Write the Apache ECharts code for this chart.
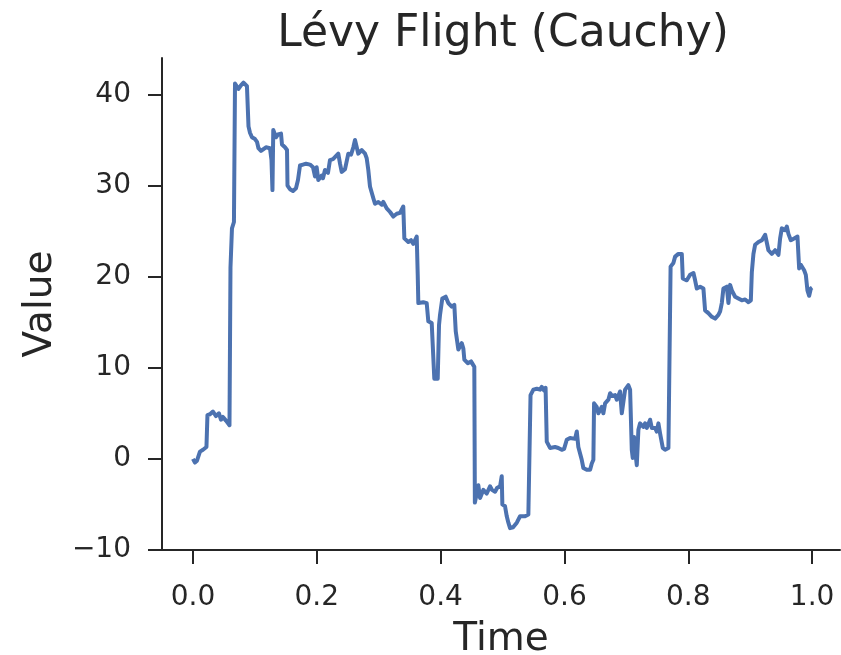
<!DOCTYPE html>
<html>
<head>
<meta charset="utf-8">
<script src="https://cdn.jsdelivr.net/npm/echarts@6/dist/echarts.min.js"></script>
<style>html,body{margin:0;padding:0;background:#fff}#c{width:841px;height:655px}</style>
</head>
<body>
<div id="c"></div>
<script>
const chartTitle = 'Lévy Flight (Cauchy)';
const xName = 'Time';
const yName = 'Value';
const xTicks = [0, 0.2, 0.4, 0.6, 0.8, 1.0];
const yTicks = [-10, 0, 10, 20, 30, 40];
const time = [
0,0.0032,0.0065,0.0113,0.0162,0.0218,0.0234,0.0275,0.0323,0.0372,0.0420,0.0452,0.0485,0.0533,0.0565,0.0590,
0.0606,0.0630,0.0662,0.0679,0.0711,0.0735,0.0775,0.0816,0.0872,0.0897,0.0921,0.0953,0.1002,0.1034,0.1058,0.1099,
0.1131,0.1179,0.1244,0.1268,0.1284,0.1297,0.1341,0.1373,0.1422,0.1438,0.1486,0.1519,0.1527,0.1567,0.1616,0.1664,
0.1696,0.1729,0.1777,0.1826,0.1890,0.1939,0.1971,0.1998,0.2024,0.2079,0.2100,0.2132,0.2181,0.2213,0.2262,0.2294,
0.2347,0.2375,0.2402,0.2456,0.2483,0.2509,0.2553,0.2590,0.2617,0.2645,0.2670,0.2725,0.2779,0.2806,0.2832,0.2859,
0.2913,0.2940,0.2994,0.3049,0.3074,0.3129,0.3183,0.3236,0.3291,0.3344,0.3397,0.3414,0.3478,0.3522,0.3559,0.3614,
0.3630,0.3640,0.3721,0.3775,0.3801,0.3856,0.3877,0.3898,0.3953,0.3974,0.3990,0.4027,0.4082,0.4124,0.4179,0.4221,
0.4244,0.4286,0.4341,0.4367,0.4383,0.4438,0.4491,0.4544,0.4553,0.4609,0.4637,0.4690,0.4745,0.4798,0.4830,0.4879,
0.4911,0.4960,0.4987,0.4997,0.5040,0.5068,0.5094,0.5121,0.5170,0.5230,0.5283,0.5315,0.5363,0.5417,0.5444,0.5452,
0.5498,0.5553,0.5606,0.5633,0.5670,0.5695,0.5714,0.5767,0.5848,0.5901,0.5956,0.5994,0.6037,0.6090,0.6171,0.6199,
0.6224,0.6279,0.6305,0.6360,0.6414,0.6441,0.6467,0.6478,0.6521,0.6547,0.6602,0.6628,0.6656,0.6709,0.6737,0.6769,
0.6817,0.6845,0.6898,0.6926,0.6951,0.6979,0.7032,0.7060,0.7087,0.7103,0.7124,0.7141,0.7168,0.7194,0.7221,0.7274,
0.7302,0.7329,0.7383,0.7410,0.7464,0.7491,0.7517,0.7544,0.7588,0.7625,0.7679,0.7706,0.7714,0.7759,0.7787,0.7840,
0.7895,0.7911,0.7976,0.8029,0.8083,0.8110,0.8137,0.8191,0.8244,0.8271,0.8324,0.8380,0.8433,0.8486,0.8514,0.8541,
0.8567,0.8622,0.8648,0.8675,0.8703,0.8756,0.8809,0.8864,0.8918,0.8971,0.9010,0.9026,0.9052,0.9079,0.9133,0.9188,
0.9241,0.9268,0.9294,0.9349,0.9402,0.9456,0.9483,0.9510,0.9564,0.9591,0.9617,0.9656,0.9709,0.9763,0.9790,0.9817,
0.9871,0.9898,0.9924,0.9952,0.9979,1.0
];
const value = [
0,-0.4,-0.2,0.8,1.0,1.3,4.8,4.9,5.2,4.7,5.0,4.3,4.6,4.2,4.4,3.7,
21,25.3,26,41.2,41.3,40.6,41.0,41.3,40.9,36.5,35.8,35.3,35.1,34.8,34.1,33.8,
33.7,34.2,34.1,32.8,29.5,36.1,35.3,35.6,35.7,34.5,34.2,33.9,30,29.6,29.4,29.7,
30.6,32.2,32.3,32.4,32.3,32.0,31,32,30.6,31.1,30.8,31.7,31.4,32.8,32.9,33.1,
33.5,32.4,31.5,31.8,31.7,33.5,33.4,34.2,35.0,34.2,33.5,33.9,33.5,33,31.7,29.9,
28.6,28,28.2,27.9,28.2,27.5,27.1,26.6,26.9,27.0,27.7,24.2,23.8,24.0,23.6,24.4,
20.2,17.1,17.2,17.1,15.1,14.9,14.8,8.8,8.8,14.7,15.8,17.6,17.8,17.1,16.7,16.9,
14,12,12.7,12.1,10.9,10.5,10.7,10.1,-4.8,-2.9,-4.3,-3.4,-3.8,-3.0,-3.4,-3.6,
-3.2,-3.0,-1.9,-5,-5.2,-6.3,-7,-7.6,-7.5,-7.0,-6.3,-6.5,-6.3,-6.1,-6.3,7.0,
7.6,7.7,7.6,7.9,7.5,7.8,1.9,1.2,1.3,1.2,1.0,1.1,2.1,2.3,2.2,3.0,
1.3,-0.1,-1.0,-1.2,-1.2,-0.5,-0.1,6.1,5.7,5.0,5.7,5.0,6.1,6.5,7.2,6.9,
7.0,6.5,7.4,5.0,5.0,7.6,8.1,7.6,1.0,0.1,2.4,1.0,-0.7,3.2,3.9,3.5,
3.9,3.4,4.3,3.4,3.4,3.0,3.9,2.8,1.2,1.0,1.2,1.2,21.1,21.5,22.2,22.5,
22.5,19.8,19.6,20.2,20.4,19.6,18.7,18.9,18.7,16.3,16.0,15.6,15.4,15.8,16.2,17.1,
18.7,18.9,17.1,19.1,18.5,17.8,17.6,17.4,17.5,17.2,17.4,20.5,22.5,23.5,23.8,24.0,
24.6,24.7,22.9,22.5,22.9,22.4,24.2,25.3,25.1,25.5,24.7,24.0,24.2,24.4,20.9,21.3,
20.7,20.2,18.5,17.9,18.7,18.8
];

const ink = '#262626';
const font = 'DejaVu Sans';
const chart = echarts.init(document.getElementById('c'), null, {renderer: 'canvas'});
const fmt = v => (v < 0 ? '\u2212' : '') + Math.abs(v);
chart.setOption({
  animation: false,
  backgroundColor: '#ffffff',
  title: {
    text: chartTitle, left: 498, top: 8, textAlign: 'center',
    textStyle: {fontFamily: font, fontSize: 44, fontWeight: 'normal', color: ink}
  },
  grid: {left: 162, right: 1, top: 58, bottom: 105, containLabel: false, outerBoundsMode: 'none'},
  xAxis: {
    type: 'value', min: -0.05, max: 1.045,
    name: xName, nameLocation: 'middle', nameGap: 70,
    nameTextStyle: {fontFamily: font, fontSize: 39, color: ink},
    axisLine: {show: true, onZero: false, lineStyle: {color: ink, width: 2}},
    axisTick: {show: true, length: 14, lineStyle: {color: ink, width: 2}, customValues: xTicks},
    axisLabel: {fontFamily: font, fontSize: 28, color: ink, margin: 34, customValues: xTicks,
      formatter: v => v.toFixed(1)},
    splitLine: {show: false}
  },
  yAxis: {
    type: 'value', min: -10, max: 44,
    name: yName, nameLocation: 'middle', nameGap: 102, nameRotate: 90,
    nameTextStyle: {fontFamily: font, fontSize: 39, color: ink},
    axisLine: {show: true, onZero: false, lineStyle: {color: ink, width: 2}},
    axisTick: {show: true, length: 14, lineStyle: {color: ink, width: 2}, customValues: yTicks},
    axisLabel: {fontFamily: font, fontSize: 28, color: ink, margin: 31, customValues: yTicks,
      formatter: fmt},
    splitLine: {show: false}
  },
  series: [{
    type: 'line', data: time.map((t, i) => [t, value[i]]),
    showSymbol: false, symbol: 'none',
    lineStyle: {color: '#4c72b0', width: 4, join: 'round'}
  }]
});
</script>
</body>
</html>
